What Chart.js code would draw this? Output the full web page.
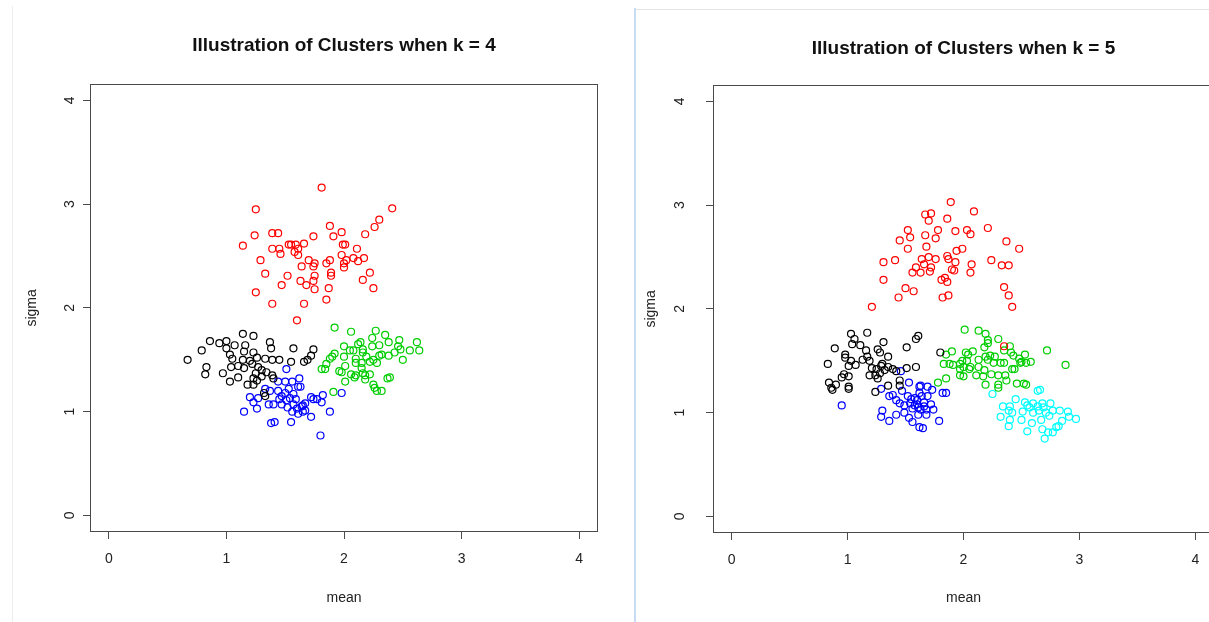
<!DOCTYPE html>
<html>
<head>
<meta charset="utf-8">
<script src="https://cdn.jsdelivr.net/npm/chart.js@4.4.1/dist/chart.umd.min.js"></script>
<style>
  html, body { margin: 0; padding: 0; background: #fff; }
  body { width: 1209px; height: 622px; overflow: hidden; position: relative; }
  .pane { position: absolute; top: 0; }
  #leftEdge { position: absolute; left: 12px; top: 6px; width: 1px; height: 616px; background: #ededed; }
  #divider { position: absolute; left: 634px; top: 8px; width: 2px; height: 614px; background: #c6dcf2; }
  #rightTop { position: absolute; left: 636px; top: 9px; width: 573px; height: 1px; background: #e3e3e3; }
</style>
</head>
<body>
<div id="leftEdge"></div>
<div id="divider"></div>
<div id="rightTop"></div>
<div class="pane" style="left:0px"><canvas id="k4" width="620" height="622"></canvas></div>
<div class="pane" style="left:640px"><canvas id="k5" width="600" height="622"></canvas></div>

<script>
// axis settings shared by both plots (R style: range 0..4 plus 4%)
var axisMin = -0.16;
var axisMax = 4.16;
var xTicks = [0, 1, 2, 3, 4];
var yTicks = [0, 1, 2, 3, 4];

// k = 4 clusters, [mean, sigma]
var k4Red = [[1.25,2.95],[1.24,2.70],[1.14,2.60],[1.39,2.72],[1.44,2.72],[1.39,2.57],[1.45,2.57],[1.46,2.52],
  [1.53,2.61],[1.55,2.61],[1.59,2.61],[1.61,2.57],[1.58,2.54],[1.61,2.51],[1.66,2.62],[1.29,2.46],[1.33,2.33],
  [1.52,2.31],[1.47,2.22],[1.64,2.40],[1.63,2.26],[1.25,2.15],[1.39,2.04],[1.66,2.04],[1.81,3.16],[2.41,2.96],
  [2.30,2.85],[2.26,2.78],[2.18,2.71],[1.88,2.79],[1.98,2.73],[1.91,2.69],[1.74,2.69],[1.99,2.61],[2.01,2.61],
  [2.11,2.57],[1.98,2.51],[2.08,2.48],[2.17,2.48],[2.12,2.45],[2.02,2.46],[2.00,2.43],[2.00,2.39],[1.88,2.46],
  [1.85,2.43],[1.70,2.46],[1.75,2.43],[1.74,2.40],[1.89,2.34],[1.89,2.31],[1.75,2.31],[2.22,2.34],[2.16,2.27],
  [2.25,2.19],[1.74,2.26],[1.68,2.22],[1.75,2.18],[1.87,2.19],[1.85,2.08],[1.60,1.88]];
var k4Black = [[0.67,1.50],[0.79,1.59],[0.86,1.68],[0.94,1.66],[1.00,1.68],[1.00,1.61],[1.07,1.64],[1.14,1.75],
  [1.16,1.64],[1.23,1.73],[1.15,1.58],[1.03,1.55],[1.05,1.51],[0.83,1.43],[0.82,1.36],[0.97,1.37],[1.04,1.43],
  [1.10,1.44],[1.15,1.42],[1.14,1.50],[1.20,1.49],[1.23,1.57],[1.26,1.52],[1.22,1.46],[1.33,1.51],[1.39,1.50],
  [1.37,1.67],[1.38,1.61],[1.45,1.50],[1.57,1.61],[1.55,1.48],[1.66,1.48],[1.27,1.43],[1.30,1.40],[1.25,1.37],
  [1.30,1.34],[1.23,1.32],[1.26,1.30],[1.18,1.26],[1.23,1.26],[1.03,1.29],[1.10,1.33],[1.34,1.38],[1.39,1.35],
  [1.40,1.32],[1.32,1.18],[1.33,1.15],[1.74,1.60],[1.72,1.54],[1.69,1.50]];
var k4Blue = [[1.51,1.41],[1.62,1.32],[1.44,1.29],[1.50,1.29],[1.56,1.29],[1.61,1.24],[1.63,1.24],[1.37,1.20],
  [1.44,1.20],[1.50,1.18],[1.57,1.17],[1.20,1.14],[1.27,1.13],[1.23,1.09],[1.26,1.03],[1.15,1.00],[1.36,1.07],
  [1.40,1.07],[1.47,1.07],[1.51,1.11],[1.54,1.13],[1.57,1.07],[1.60,1.03],[1.65,1.06],[1.61,0.98],[1.56,1.00],
  [1.65,1.00],[1.38,0.89],[1.41,0.90],[1.55,0.90],[1.33,1.22],[1.72,1.14],[1.74,1.12],[1.82,1.16],[1.81,1.09],
  [1.67,1.08],[1.67,1.01],[1.64,1.05],[1.77,1.12],[1.98,1.18],[1.88,1.00],[1.72,0.95],[1.80,0.77],[1.53,1.22],
  [1.47,1.15],[1.59,1.12],[1.52,1.04],[1.45,1.12]];
var k4Green = [[1.92,1.81],[2.06,1.77],[2.27,1.78],[2.35,1.74],[2.24,1.71],[2.47,1.69],[2.62,1.67],[2.14,1.67],
  [2.12,1.65],[2.30,1.64],[2.38,1.67],[2.46,1.63],[2.48,1.60],[2.00,1.63],[2.24,1.63],[2.05,1.59],[2.08,1.59],
  [2.16,1.60],[2.16,1.57],[1.92,1.56],[1.90,1.53],[1.88,1.51],[1.85,1.46],[1.81,1.41],[1.84,1.41],[2.00,1.53],
  [2.10,1.51],[2.19,1.53],[2.30,1.54],[2.32,1.55],[2.38,1.54],[2.43,1.57],[2.56,1.59],[2.64,1.59],[2.50,1.50],
  [2.28,1.47],[2.25,1.50],[2.22,1.48],[2.15,1.47],[2.10,1.47],[2.15,1.42],[2.01,1.44],[1.96,1.39],[1.98,1.38],
  [2.06,1.36],[2.10,1.35],[2.16,1.37],[2.18,1.35],[2.22,1.36],[2.09,1.33],[2.18,1.31],[2.01,1.29],[2.37,1.32],
  [2.39,1.33],[2.25,1.26],[2.26,1.23],[2.28,1.20],[2.32,1.20],[1.91,1.19]];

// k = 5 clusters, [mean, sigma]
var k5Red = [[1.89,3.03],[1.67,2.91],[1.72,2.92],[1.70,2.85],[1.86,2.87],[1.52,2.76],[1.54,2.69],[1.45,2.66],
  [1.52,2.58],[1.67,2.71],[1.78,2.76],[1.76,2.68],[1.93,2.75],[1.68,2.60],[1.31,2.45],[1.41,2.47],[1.64,2.48],
  [1.70,2.50],[1.76,2.48],[1.94,2.56],[1.99,2.58],[1.86,2.51],[1.87,2.48],[1.93,2.45],[1.90,2.38],[1.92,2.37],
  [1.59,2.40],[1.66,2.43],[1.72,2.40],[1.71,2.36],[1.63,2.35],[1.56,2.35],[1.84,2.30],[1.81,2.28],[1.86,2.26],
  [1.31,2.28],[1.50,2.20],[1.57,2.17],[1.44,2.11],[1.82,2.11],[1.87,2.13],[1.21,2.02],[2.09,2.94],[2.03,2.76],
  [2.06,2.72],[2.21,2.78],[2.37,2.65],[2.48,2.58],[2.24,2.47],[2.07,2.43],[2.06,2.35],[2.33,2.42],[2.39,2.42],
  [2.35,2.21],[2.39,2.13],[2.42,2.02],[2.35,1.64]];
var k5Black = [[1.17,1.77],[1.03,1.76],[1.06,1.71],[1.04,1.66],[1.11,1.65],[0.89,1.62],[1.31,1.68],[1.16,1.60],
  [1.26,1.61],[1.28,1.58],[1.17,1.54],[1.51,1.63],[1.59,1.71],[1.61,1.74],[1.35,1.54],[0.98,1.56],[0.98,1.53],
  [0.83,1.47],[1.03,1.50],[1.07,1.46],[1.01,1.45],[1.13,1.51],[1.19,1.50],[1.21,1.43],[1.25,1.42],[1.29,1.45],
  [1.30,1.47],[1.35,1.44],[1.39,1.42],[1.42,1.40],[1.19,1.36],[1.24,1.36],[1.26,1.33],[1.28,1.38],[1.32,1.41],
  [0.95,1.34],[0.97,1.37],[1.01,1.35],[0.84,1.29],[0.90,1.27],[0.86,1.24],[0.87,1.22],[1.01,1.25],[1.01,1.23],
  [1.51,1.43],[1.59,1.44],[1.45,1.31],[1.45,1.26],[1.35,1.26],[1.24,1.20],[1.80,1.58]];
var k5Blue = [[0.95,1.07],[1.29,1.23],[1.46,1.40],[1.53,1.29],[1.36,1.16],[1.39,1.17],[1.42,1.12],[1.47,1.21],
  [1.45,1.09],[1.49,1.07],[1.54,1.09],[1.58,1.07],[1.30,1.02],[1.29,0.96],[1.36,0.92],[1.42,0.98],[1.49,1.00],
  [1.53,0.95],[1.56,0.91],[1.62,1.25],[1.62,1.19],[1.52,1.16],[1.58,1.14],[1.62,0.86],[1.63,1.26],[1.69,1.25],
  [1.73,1.22],[1.82,1.19],[1.85,1.19],[1.69,1.16],[1.64,1.16],[1.60,1.12],[1.66,1.10],[1.72,1.08],[1.63,1.03],
  [1.68,1.03],[1.74,1.03],[1.61,0.98],[1.68,0.98],[1.79,0.92],[1.65,0.85],[1.61,1.05],[1.56,1.04],[1.60,1.08],
  [1.66,1.06],[1.55,1.13]];
var k5Green = [[2.01,1.80],[2.13,1.79],[2.19,1.76],[2.21,1.70],[2.30,1.71],[2.18,1.63],[2.21,1.67],[1.90,1.59],
  [1.85,1.56],[2.02,1.58],[2.08,1.59],[2.04,1.56],[2.13,1.51],[2.19,1.54],[2.23,1.55],[2.27,1.54],[2.21,1.51],
  [2.26,1.48],[2.32,1.48],[2.35,1.48],[1.83,1.47],[1.88,1.47],[1.91,1.46],[1.97,1.47],[1.99,1.50],[2.03,1.50],
  [2.06,1.44],[2.00,1.44],[1.97,1.42],[2.05,1.42],[2.13,1.44],[2.18,1.41],[1.97,1.36],[2.00,1.35],[2.11,1.36],
  [2.17,1.35],[2.24,1.37],[2.30,1.36],[2.36,1.36],[1.85,1.33],[1.78,1.29],[2.19,1.27],[2.30,1.24],[2.37,1.31],
  [2.30,1.27],[2.46,1.28],[2.52,1.28],[2.54,1.27],[2.40,1.64],[2.35,1.60],[2.41,1.58],[2.43,1.55],[2.53,1.56],
  [2.72,1.60],[2.48,1.52],[2.50,1.49],[2.58,1.49],[2.54,1.48],[2.49,1.48],[2.88,1.46],[2.42,1.42],[2.44,1.42]];
var k5Cyan = [[2.66,1.22],[2.64,1.21],[2.25,1.18],[2.45,1.13],[2.34,1.06],[2.53,1.10],[2.55,1.07],[2.60,1.09],
  [2.68,1.09],[2.75,1.09],[2.57,1.05],[2.64,1.06],[2.69,1.05],[2.77,1.02],[2.83,1.02],[2.39,1.02],[2.42,1.00],
  [2.51,1.01],[2.60,1.00],[2.65,1.02],[2.71,1.00],[2.74,0.97],[2.90,1.01],[2.91,0.96],[2.97,0.94],[2.32,0.96],
  [2.40,0.93],[2.39,0.87],[2.50,0.93],[2.59,0.90],[2.67,0.93],[2.85,0.92],[2.80,0.86],[2.82,0.87],[2.68,0.84],
  [2.77,0.81],[2.73,0.81],[2.55,0.82],[2.70,0.75],[2.40,1.06]];

var fontFamily = "'Liberation Sans', Arial, sans-serif";

// R draws a box round the plot region
var framePlugin = {
  id: 'frame',
  afterDatasetsDraw: function(chart) {
    var a = chart.chartArea, ctx = chart.ctx;
    ctx.save();
    ctx.strokeStyle = '#4a4a4a';
    ctx.lineWidth = 1;
    ctx.strokeRect(Math.round(a.left) + 0.5, Math.round(a.top) + 0.5,
      Math.round(a.right - a.left) - 1, Math.round(a.bottom - a.top) - 1);
    ctx.restore();
  }
};

function toPoints(arr) {
  return arr.map(function(p) { return {x: p[0], y: p[1]}; });
}

function drawClusters(id, titleText, groups, g) {
  var datasets = groups.map(function(gr) {
    return {
      data: toPoints(gr[0]),
      borderColor: gr[1],
      backgroundColor: 'rgba(0,0,0,0)',
      pointRadius: 3.5,
      pointBorderWidth: 1.2,
      pointHoverRadius: 3.5
    };
  });
  return new Chart(document.getElementById(id), {
    type: 'scatter',
    data: { datasets: datasets },
    options: {
      responsive: false,
      animation: false,
      events: [],
      layout: { padding: { left: 0, right: g.padRight, top: 0, bottom: 0 } },
      plugins: {
        legend: { display: false },
        tooltip: { enabled: false },
        title: {
          display: true, text: titleText, fullSize: false, color: '#111',
          font: { family: fontFamily, size: 19, weight: 'bold' },
          padding: { top: g.titleTop, bottom: g.titleBottom }
        }
      },
      scales: {
        x: {
          type: 'linear', min: axisMin, max: axisMax,
          afterBuildTicks: function(s) { s.ticks = xTicks.map(function(v) { return {value: v}; }); },
          afterFit: function(s) { s.height = g.xAxisHeight; },
          grid: { drawOnChartArea: false, drawTicks: true, tickLength: 7, color: '#4a4a4a' },
          border: { display: false },
          ticks: { padding: g.xTickPad, color: '#222', font: { family: fontFamily, size: 14 },
                   maxRotation: 0, autoSkip: false, callback: function(v) { return String(v); } },
          title: { display: true, text: 'mean', color: '#222', font: { family: fontFamily, size: 14 },
                   padding: { top: 0, bottom: g.xTitlePad } }
        },
        y: {
          type: 'linear', min: axisMin, max: axisMax,
          afterBuildTicks: function(s) { s.ticks = yTicks.map(function(v) { return {value: v}; }); },
          afterFit: function(s) { s.width = g.yAxisWidth; },
          grid: { drawOnChartArea: false, drawTicks: true, tickLength: 7, color: '#4a4a4a' },
          border: { display: false },
          ticks: { padding: g.yTickPad, color: '#222', font: { family: fontFamily, size: 14 },
                   minRotation: 90, maxRotation: 90, crossAlign: 'center', autoSkip: false,
                   callback: function(v) { return String(v); } },
          title: { display: true, text: 'sigma', color: '#222', font: { family: fontFamily, size: 14 },
                   padding: { top: g.yTitlePad, bottom: 0 } }
        }
      }
    },
    plugins: [framePlugin]
  });
}

drawClusters('k4', 'Illustration of Clusters when k = 4',
  [[k4Black, '#000000'], [k4Red, '#ff0000'], [k4Green, '#00cd00'], [k4Blue, '#0000ff']],
  { padRight: 22, yAxisWidth: 90, yTitlePad: 24, yTickPad: 9, xAxisHeight: 90, xTickPad: 12,
    xTitlePad: 15, titleTop: 34, titleBottom: 27 });

drawClusters('k5', 'Illustration of Clusters when k = 5',
  [[k5Black, '#000000'], [k5Red, '#ff0000'], [k5Green, '#00cd00'], [k5Blue, '#0000ff'], [k5Cyan, '#00ffff']],
  { padRight: 26, yAxisWidth: 73, yTitlePad: 3, yTickPad: 22, xAxisHeight: 89, xTickPad: 12,
    xTitlePad: 15, titleTop: 37, titleBottom: 25 });
</script>
</body>
</html>
